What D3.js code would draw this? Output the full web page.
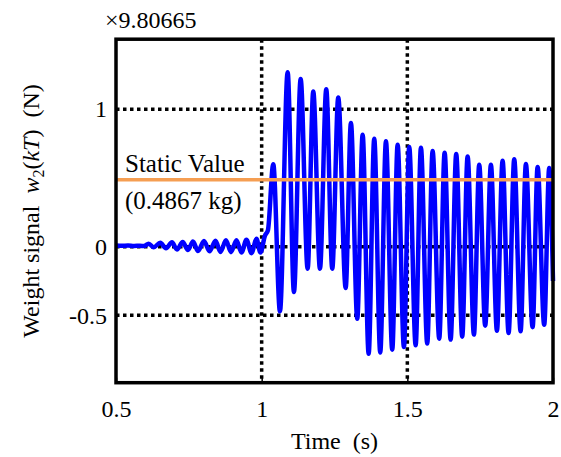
<!DOCTYPE html>
<html>
<head>
<meta charset="utf-8">
<script src="https://cdn.jsdelivr.net/npm/d3@7/dist/d3.min.js"></script>
<style>
  html, body { margin: 0; padding: 0; background: #fff; }
  svg { display: block; }
  text { font-family: "Liberation Serif", "Times New Roman", serif; fill: #000; white-space: pre; }
</style>
</head>
<body>
<svg id="chart" width="561" height="457"></svg>
<script>
// Weight signal w2(kT) around the moment a load is placed on the scale.
// Times (s) and values (in units of 9.80665 N) of the trace's turning points.
const sigTime = [
  0.5, 0.5206, 0.5412, 0.5618, 0.5824, 0.5961,
  0.6122, 0.6294, 0.652, 0.6716, 0.6922, 0.7093, 0.7289, 0.7471, 0.7642, 0.7814,
  0.802, 0.8209, 0.8415, 0.8586, 0.8775, 0.8946, 0.9135, 0.9307, 0.9478, 0.965,
  0.9822, 0.9959, 1.0113, 1.0216,
  1.0398, 1.0628, 1.0892, 1.1108, 1.1338, 1.1578, 1.1771, 1.2001, 1.2217, 1.2423,
  1.2629, 1.2883, 1.3064, 1.3281, 1.3466, 1.3672, 1.3864, 1.407, 1.4266, 1.4482,
  1.4667, 1.4883, 1.5065, 1.5285, 1.5467, 1.5683, 1.5868, 1.6095, 1.628, 1.6486,
  1.6678, 1.6884, 1.7069, 1.7286, 1.7467, 1.7673, 1.7869, 1.8075, 1.827, 1.8476,
  1.8669, 1.8888, 1.907, 1.93, 1.9472, 1.9698, 1.987, 2.0
];
const sigValue = [
  0.008, 0.006, 0.009, 0.005, 0.007, 0.004,
  0.022, -0.004, 0.028, -0.012, 0.032, -0.020, 0.034, -0.024, 0.038, -0.032,
  0.042, -0.034, 0.044, -0.038, 0.046, -0.040, 0.047, -0.042, 0.050, -0.047,
  0.057, -0.042, 0.080, 0.120,
  0.60, -0.47, 1.27, -0.33, 1.22, -0.16, 1.13, -0.16, 1.145, -0.16,
  1.085, -0.30, 0.90, -0.525, 0.815, -0.78, 0.786, -0.77, 0.767, -0.75,
  0.742, -0.73, 0.725, -0.717, 0.72, -0.705, 0.696, -0.67, 0.684, -0.676,
  0.674, -0.655, 0.657, -0.64, 0.596, -0.575, 0.596, -0.611, 0.625, -0.628,
  0.636, -0.615, 0.601, -0.586, 0.58, -0.569, 0.572, -0.25
];

const staticValue = 0.4867;          // kg, shown as the reference level
const xTicks = [0.5, 1, 1.5, 2];
const yTicks = [-0.5, 0, 1];
const xGrid = [1, 1.5];
const yGrid = [-0.5, 0, 1];
const scaleNote = "\u00d79.80665";

const FONT = "24px";
const svg = d3.select("#chart");

const x = d3.scaleLinear().domain([0.5, 2]).range([116, 553]);
const y = d3.scaleLinear().domain([-0.99, 1.51]).range([382.7, 39.2]);

const [x0, x1] = x.range();
const [yb, yt] = y.range();
const fmt = d => String(d);   // plain hyphen for negatives

// dotted grid
const grid = svg.append("g")
  .attr("stroke", "#000")
  .attr("stroke-width", 3.5)
  .attr("stroke-dasharray", "3.5,3.5");
grid.selectAll("line.v").data(xGrid).join("line")
  .attr("class", "v")
  .attr("x1", d => x(d)).attr("x2", d => x(d))
  .attr("y1", yt).attr("y2", yb);
grid.selectAll("line.h").data(yGrid).join("line")
  .attr("class", "h")
  .attr("x1", x0).attr("x2", x1)
  .attr("y1", d => y(d)).attr("y2", d => y(d));

// signal trace
const pts = sigTime.map((t, i) => [t, sigValue[i]]);
const line = d3.line()
  .x(d => x(d[0]))
  .y(d => y(d[1]))
  .curve(d3.curveMonotoneX);
svg.append("path")
  .datum(pts)
  .attr("d", line)
  .attr("fill", "none")
  .attr("stroke", "#0000ff")
  .attr("stroke-width", 4.5)
  .attr("stroke-linejoin", "round");

// static reference level
svg.append("line")
  .attr("x1", x0).attr("x2", x1)
  .attr("y1", y(staticValue)).attr("y2", y(staticValue))
  .attr("stroke", "#f59e52")
  .attr("stroke-width", 3.5);

svg.append("text")
  .attr("x", 125).attr("y", 171.5)
  .style("font-size", "25px")
  .text("Static Value");
svg.append("text")
  .attr("x", 125).attr("y", 209)
  .style("font-size", "25px")
  .text("(" + staticValue + " kg)");

// axes
const xAxis = d3.axisBottom(x).tickValues(xTicks).tickSize(-5).tickPadding(17)
  .tickFormat(fmt);
const gx = svg.append("g").attr("transform", `translate(0,${yb})`).call(xAxis);
gx.select(".domain").remove();
gx.selectAll(".tick line").attr("stroke", "#000").attr("stroke-width", 1.5);
gx.selectAll(".tick text")
  .style("font-family", "Liberation Serif")
  .style("font-size", FONT)
  .attr("fill", "#000");

const yAxis = d3.axisLeft(y).tickValues(yTicks).tickSize(0).tickPadding(9)
  .tickFormat(fmt);
const gy = svg.append("g").attr("transform", `translate(${x0},0)`).call(yAxis);
gy.select(".domain").remove();
gy.selectAll(".tick text")
  .style("font-family", "Liberation Serif")
  .style("font-size", FONT)
  .attr("fill", "#000");

// frame
svg.append("rect")
  .attr("x", x0).attr("y", yt)
  .attr("width", x1 - x0).attr("height", yb - yt)
  .attr("fill", "none")
  .attr("stroke", "#000")
  .attr("stroke-width", 3.5);

// scale factor note
svg.append("text")
  .attr("x", 105).attr("y", 28)
  .style("font-size", FONT)
  .text(scaleNote);

// axis titles
svg.append("text")
  .attr("x", (x0 + x1) / 2).attr("y", 448.5)
  .attr("text-anchor", "middle")
  .style("font-size", FONT)
  .text("Time  (s)");

const yl = svg.append("text")
  .attr("transform", `translate(39,${(yt + yb) / 2}) rotate(-90)`)
  .attr("text-anchor", "middle")
  .style("font-size", FONT);
yl.append("tspan").text("Weight signal  ");
yl.append("tspan").style("font-style", "italic").text("w");
yl.append("tspan").attr("dy", 5).style("font-size", "16px").text("2");
yl.append("tspan").attr("dy", -5).text("(");
yl.append("tspan").style("font-style", "italic").text("kT");
yl.append("tspan").text(")  (N)");
</script>
</body>
</html>
